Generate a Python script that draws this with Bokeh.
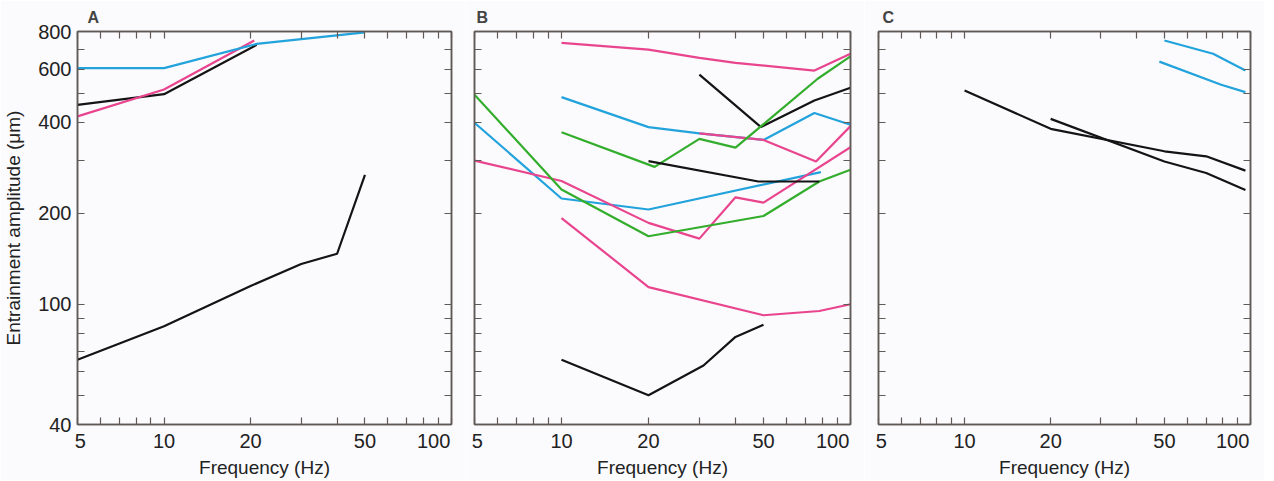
from bokeh.plotting import figure
from bokeh.models import Range1d, FixedTicker, LogAxis, NumeralTickFormatter
from bokeh.layouts import row
from bokeh.embed import file_html
from bokeh.resources import INLINE

# ---------------- axis ticks ----------------
x_major = [5, 10, 20, 50, 100]
x_minor = [6, 7, 8, 9, 30, 40, 60, 70, 80, 90]
y_major = [40, 100, 200, 400, 600, 800]
y_minor = [50, 60, 70, 80, 90, 300, 500, 700]

# ---------------- colours ----------------
PINK = "#e8458e"
BLUE = "#22a3dc"
GREEN = "#33ad2c"
BLACK = "#141414"

# ---------------- Panel A ----------------
A_blue_f = [5, 10, 21, 50]
A_blue_a = [605, 605, 728, 795]
A_pink_f = [5, 10, 20.6]
A_pink_a = [419, 514, 747]
A_black1_f = [5, 10, 21]
A_black1_a = [457, 496, 723]
A_black2_f = [5, 10, 20, 30, 40, 50]
A_black2_a = [65.5, 84.6, 115, 136, 147, 268]

# ---------------- Panel B ----------------
B_pink1_f = [10, 20, 30, 40, 75, 100]
B_pink1_a = [734, 697, 654, 630, 594, 675]
B_black1_f = [30, 49, 75, 100]
B_black1_a = [576, 386, 473, 521]
B_green1_f = [10, 21, 30, 40, 77, 100]
B_green1_a = [371, 285, 353, 330, 558, 662]
B_blue1_f = [10, 20, 30, 50, 75, 100]
B_blue1_a = [485, 386, 368, 350, 430, 393]
B_pink2_f = [30, 50, 76, 100]
B_pink2_a = [368, 350, 297, 389]
B_green2_f = [5, 10, 20, 50, 78, 100]
B_green2_a = [494, 240, 168, 196, 255, 279]
B_blue2_f = [5, 10, 20, 79]
B_blue2_a = [399, 224, 206, 274]
B_pink3_f = [5, 10, 20, 30, 40, 50, 100]
B_pink3_a = [299, 256, 186, 165, 226, 217, 331]
B_pink4_f = [10, 20, 50, 78, 100]
B_pink4_a = [193, 114, 92, 95, 100]
B_black2_f = [10, 20, 31, 40, 50]
B_black2_a = [65.5, 50, 62.7, 78, 85.5]
B_black3_f = [20, 48, 78]
B_black3_a = [298, 255, 255]

# ---------------- Panel C ----------------
C_blue1_f = [50, 74, 96]
C_blue1_a = [747, 675, 594]
C_blue2_f = [48, 79, 96]
C_blue2_a = [636, 533, 504]
C_black1_f = [10, 20, 50, 70, 96]
C_black1_a = [510, 381, 321, 309, 277]
C_black2_f = [20, 50, 70, 96]
C_black2_a = [411, 297, 272, 239]

FONT = "Liberation Sans"
BG = "#fbfafd"
AXC = "#5f5a56"
TXT = "#222222"


def style_axis(ax, ticks, minor, labels):
    ax.ticker = FixedTicker(ticks=ticks, minor_ticks=minor)
    ax.axis_line_color = AXC
    ax.axis_line_width = 1.5
    ax.major_tick_line_color = AXC
    ax.minor_tick_line_color = AXC
    ax.major_tick_line_width = 1.2
    ax.minor_tick_line_width = 1.2
    ax.major_tick_in = 7
    ax.major_tick_out = 0
    ax.minor_tick_in = 7
    ax.minor_tick_out = 0
    ax.formatter = NumeralTickFormatter(format="0")
    if labels:
        ax.major_label_text_font = FONT
        ax.major_label_text_font_size = "20px"
        ax.major_label_text_color = TXT
        ax.axis_label_text_font = FONT
        ax.axis_label_text_font_size = "19px"
        ax.axis_label_text_font_style = "normal"
        ax.axis_label_text_color = TXT
    else:
        ax.major_label_text_font_size = "0px"
        ax.major_label_standoff = 0
        ax.axis_label = None


def make_panel(letter, frame_w, left_b, right_b, ylabels, title_off):
    p = figure(x_axis_type="log", y_axis_type="log",
               x_range=Range1d(5, 100), y_range=Range1d(40, 800),
               frame_width=frame_w, frame_height=393,
               output_backend="svg", toolbar_location=None,
               min_border_left=left_b, min_border_right=right_b,
               min_border_top=23, min_border_bottom=0,
               background_fill_color=BG, border_fill_color=BG)
    p.grid.visible = False
    p.outline_line_color = AXC
    p.outline_line_width = 1.5
    p.title.text = letter
    p.title.text_font = FONT
    p.title.text_font_style = "bold"
    p.title.text_font_size = "16px"
    p.title.align = "left"
    p.title.offset = title_off
    p.title.standoff = 12

    xa = p.xaxis[0]
    style_axis(xa, x_major, x_minor, True)
    xa.axis_label = "Frequency (Hz)"
    xa.major_label_standoff = 5
    xa.axis_label_standoff = 2
    xa.major_label_overrides = {5: "\u00a05", 100: "100\u2007\u2009"}

    ya = p.yaxis[0]
    if ylabels:
        style_axis(ya, y_major, y_minor, True)
        ya.axis_label = "Entrainment amplitude (μm)"
        ya.major_label_standoff = 6
        ya.axis_label_standoff = 11
    else:
        style_axis(ya, y_major, y_minor, False)

    top = LogAxis()
    style_axis(top, x_major, x_minor, False)
    p.add_layout(top, "above")
    right = LogAxis()
    style_axis(right, y_major, y_minor, False)
    p.add_layout(right, "right")
    return p


def add_line(p, f, a, color):
    p.line(f, a, line_color=color, line_width=2.2)


pA = make_panel("A", 374, 74, 14, True, 10)
add_line(pA, A_black2_f, A_black2_a, BLACK)
add_line(pA, A_black1_f, A_black1_a, BLACK)
add_line(pA, A_pink_f, A_pink_a, PINK)
add_line(pA, A_blue_f, A_blue_a, BLUE)

pB = make_panel("B", 376, 9, 14, False, 2)
add_line(pB, B_blue1_f, B_blue1_a, BLUE)
add_line(pB, B_pink2_f, B_pink2_a, PINK)
add_line(pB, B_pink1_f, B_pink1_a, PINK)
add_line(pB, B_black1_f, B_black1_a, BLACK)
add_line(pB, B_green1_f, B_green1_a, GREEN)
add_line(pB, B_blue2_f, B_blue2_a, BLUE)
add_line(pB, B_pink3_f, B_pink3_a, PINK)
add_line(pB, B_green2_f, B_green2_a, GREEN)
add_line(pB, B_pink4_f, B_pink4_a, PINK)
add_line(pB, B_black2_f, B_black2_a, BLACK)
add_line(pB, B_black3_f, B_black3_a, BLACK)

pC = make_panel("C", 372, 14, 14, False, 4)
add_line(pC, C_blue1_f, C_blue1_a, BLUE)
add_line(pC, C_blue2_f, C_blue2_a, BLUE)
add_line(pC, C_black1_f, C_black1_a, BLACK)
add_line(pC, C_black2_f, C_black2_a, BLACK)

layout = row(pA, pB, pC, spacing=0)
open("out.html", "w").write(file_html(layout, INLINE))
